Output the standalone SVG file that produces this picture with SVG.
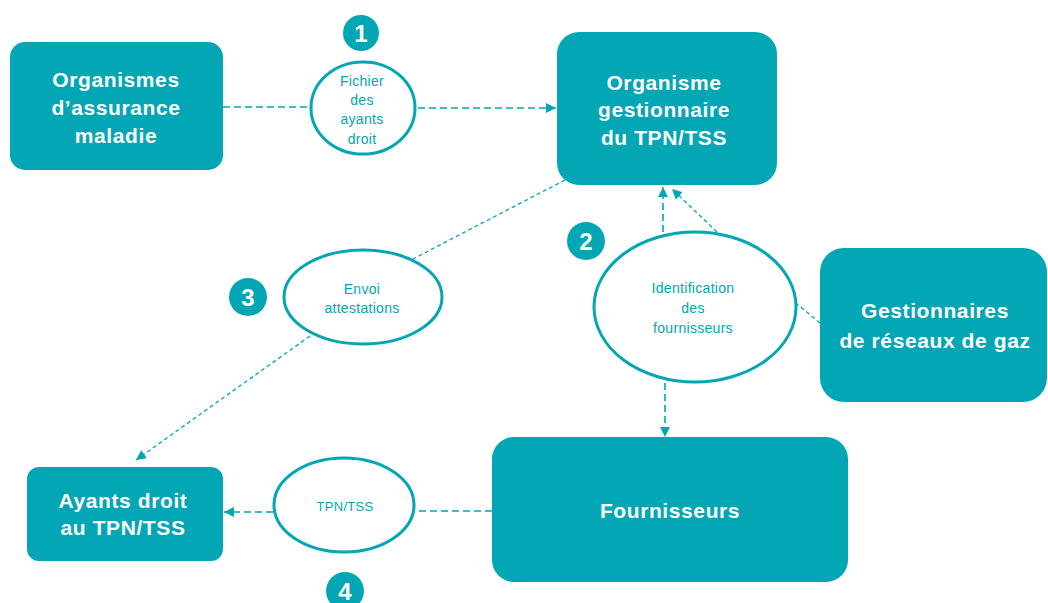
<svg xmlns="http://www.w3.org/2000/svg" width="1048" height="603" viewBox="0 0 1048 603">
<style>
.box{fill:#02A6B4;}
.bt{font-family:"Liberation Sans",Arial,sans-serif;font-weight:bold;font-size:21px;fill:#fff;text-anchor:middle;letter-spacing:0.6px;}
.ell{fill:#fff;stroke:#02A6B4;stroke-width:3;}
.et{font-family:"Liberation Sans",Arial,sans-serif;font-size:14px;fill:#02A6B4;text-anchor:middle;letter-spacing:0.3px;}
.badge{fill:#02A6B4;}
.bn{font-family:"Liberation Sans",Arial,sans-serif;font-weight:bold;font-size:24px;fill:#fff;text-anchor:middle;}
.c{fill:none;stroke:#02A6B4;stroke-width:1.6;stroke-dasharray:7,4;}
.d{fill:none;stroke:#02A6B4;stroke-width:1.3;stroke-dasharray:4,3;}
</style>
<defs>
<marker id="ah" viewBox="0 0 10 10" refX="10" refY="5" markerWidth="10" markerHeight="10" markerUnits="userSpaceOnUse" orient="auto">
<path d="M0,0 L10,5 L0,10 z" fill="#02A6B4"/>
</marker>
</defs>
<rect width="1048" height="603" fill="#fff"/>
<g id="connectors">
<line class="c" x1="223" y1="107" x2="310" y2="107"/>
<line class="c" x1="418" y1="108" x2="556" y2="108" marker-end="url(#ah)"/>
<line class="d" x1="565" y1="180" x2="413" y2="259"/>
<line class="d" x1="310" y1="336" x2="136" y2="460" marker-end="url(#ah)"/>
<line class="c" x1="663" y1="232" x2="663" y2="187" marker-end="url(#ah)"/>
<line class="d" x1="717" y1="232" x2="672" y2="189" marker-end="url(#ah)"/>
<line class="d" x1="820" y1="323" x2="797" y2="304"/>
<line class="c" x1="665" y1="383" x2="665" y2="437" marker-end="url(#ah)"/>
<line class="c" x1="492" y1="511" x2="417" y2="511"/>
<line class="c" x1="273" y1="512" x2="224" y2="512" marker-end="url(#ah)"/>
</g>
<g id="n-assurance">
<rect class="box" x="10" y="42" width="213" height="128" rx="15"/>
<text class="bt" x="116" y="87">Organismes</text>
<text class="bt" x="116" y="115">d’assurance</text>
<text class="bt" x="116" y="143">maladie</text>
</g>
<g id="n-gestionnaire">
<rect class="box" x="557" y="32" width="220" height="153" rx="22"/>
<text class="bt" x="664" y="90">Organisme</text>
<text class="bt" x="664" y="117">gestionnaire</text>
<text class="bt" x="664" y="145">du TPN/TSS</text>
</g>
<g id="n-reseaux">
<rect class="box" x="820" y="248" width="227" height="154" rx="24"/>
<text class="bt" x="935" y="318">Gestionnaires</text>
<text class="bt" x="935" y="348">de réseaux de gaz</text>
</g>
<g id="n-ayants">
<rect class="box" x="27" y="467" width="196" height="94" rx="12"/>
<text class="bt" x="123" y="508">Ayants droit</text>
<text class="bt" x="123" y="535">au TPN/TSS</text>
</g>
<g id="n-fournisseurs">
<rect class="box" x="492" y="437" width="356" height="145" rx="22"/>
<text class="bt" x="670" y="518">Fournisseurs</text>
</g>
<g id="e-fichier">
<ellipse class="ell" cx="363" cy="108" rx="52" ry="46"/>
<text class="et" x="362" y="86">Fichier</text>
<text class="et" x="362" y="105">des</text>
<text class="et" x="362" y="124">ayants</text>
<text class="et" x="362" y="144">droit</text>
</g>
<g id="e-envoi">
<ellipse class="ell" cx="363" cy="297" rx="79" ry="47"/>
<text class="et" x="362" y="294">Envoi</text>
<text class="et" x="362" y="313">attestations</text>
</g>
<g id="e-identification">
<ellipse class="ell" cx="695" cy="307" rx="101" ry="75"/>
<text class="et" x="693" y="293">Identification</text>
<text class="et" x="693" y="313">des</text>
<text class="et" x="693" y="333">fournisseurs</text>
</g>
<g id="e-tpn">
<ellipse class="ell" cx="344" cy="505" rx="70" ry="47"/>
<text class="et" x="345" y="511" style="font-size:13px">TPN/TSS</text>
</g>
<g id="b1"><circle class="badge" cx="361" cy="33" r="18"/><text class="bn" x="361" y="42">1</text></g>
<g id="b2"><circle class="badge" cx="586" cy="241" r="19"/><text class="bn" x="586" y="250">2</text></g>
<g id="b3"><circle class="badge" cx="248" cy="297" r="19"/><text class="bn" x="248" y="306">3</text></g>
<g id="b4"><circle class="badge" cx="345" cy="591" r="19"/><text class="bn" x="345" y="600">4</text></g>
</svg>
